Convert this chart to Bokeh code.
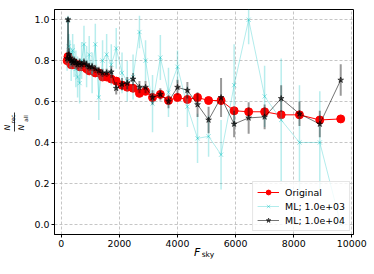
import numpy as np
from bokeh.plotting import figure
from bokeh.models import (Range1d, FixedTicker, LinearAxis, Legend, LegendItem)
from bokeh.embed import file_html
from bokeh.resources import INLINE

# ---------------- data ----------------
f_sky = [200, 230, 260, 300, 340, 390, 440, 500, 560, 630, 700, 780, 870, 960,
         1060, 1170, 1290, 1420, 1560, 1720, 1890, 2090, 2270, 2470, 2690, 2900,
         3140, 3410, 3690, 4000, 4340, 4690, 5070, 5500, 5950, 6450, 7000, 7570,
         8200, 8900, 9620]

original = [0.80, 0.82, 0.81, 0.79, 0.78, 0.78, 0.79, 0.78, 0.78, 0.77, 0.77,
            0.77, 0.76, 0.75, 0.75, 0.74, 0.74, 0.72, 0.72, 0.71, 0.70, 0.68,
            0.67, 0.665, 0.64, 0.65, 0.62, 0.635, 0.605, 0.62, 0.61, 0.62,
            0.605, 0.605, 0.555, 0.55, 0.55, 0.535, 0.535, 0.51, 0.515]

ml_1e3 = [0.80, 1.0, 0.87, 0.83, 0.78, 0.85, 0.80, 0.76, 0.72, 0.69, 0.80,
          0.88, 0.77, 0.83, 0.74, 0.88, 0.62, 0.80, 0.83, 0.78, 0.86, 0.74,
          0.70, 0.72, 0.94, 0.80, 0.59, 0.815, 0.645, 0.77, 0.575, 0.42, 0.43,
          0.34, 0.68, 1.0, 0.625, 0.51, 0.40, 0.40, 0.0]
ml_1e3_err = [0.05, 0.02, 0.06, 0.07, 0.08, 0.08, 0.08, 0.09, 0.1, 0.1, 0.09,
              0.09, 0.1, 0.09, 0.1, 0.1, 0.11, 0.1, 0.1, 0.1, 0.1, 0.1, 0.1,
              0.11, 0.08, 0.1, 0.14, 0.11, 0.12, 0.08, 0.1, 0.12, 0.1, 0.17,
              0.2, 0.12, 0.15, 0.3, 0.28, 0.25, 0.0]

ml_1e4 = [0.81, 1.0, 0.83, 0.81, 0.80, 0.79, 0.80, 0.79, 0.78, 0.79, 0.78,
          0.79, 0.78, 0.77, 0.77, 0.76, 0.75, 0.74, 0.74, 0.745, 0.665, 0.685,
          0.69, 0.71, 0.67, 0.67, 0.62, 0.635, 0.60, 0.67, 0.655, 0.585, 0.51,
          0.62, 0.49, 0.52, 0.525, 0.615, 0.54, 0.49, 0.705]
ml_1e4_err = [0.02, 0.01, 0.03, 0.02, 0.02, 0.02, 0.02, 0.02, 0.02, 0.02, 0.02,
              0.02, 0.02, 0.02, 0.02, 0.02, 0.02, 0.02, 0.02, 0.03, 0.03, 0.03,
              0.03, 0.03, 0.03, 0.03, 0.035, 0.03, 0.033, 0.037, 0.04, 0.06,
              0.065, 0.095, 0.065, 0.077, 0.06, 0.065, 0.06, 0.065, 0.077]

x_ticks = [0, 2000, 4000, 6000, 8000, 10000]
x_tick_labels = ["0", "2000", "4000", "6000", "8000", "10000"]
y_ticks = [0.0, 0.2, 0.4, 0.6, 0.8, 1.0]
y_tick_labels = ["0.0", "0.2", "0.4", "0.6", "0.8", "1.0"]

legend_labels = ["Original", "ML; 1.0e+03", "ML; 1.0e+04"]

# axis-title pieces: (text, position along the axis in data units)
x_title = [("F", 4678), ("sky", 5047)]
y_title_num = [("N", 0.473), ("rec", 0.515)]
y_title_den = [("N", 0.473), ("all", 0.517)]
y_title_bar = (0.4535, 0.5464)

# ---------------- figure ----------------
FONT = "DejaVu Sans"
W, H = 374, 274
p = figure(width=W, height=H, output_backend="svg", toolbar_location=None,
           x_range=Range1d(-235, 10060), y_range=Range1d(-0.05, 1.05),
           min_border_left=54, min_border_right=21, min_border_top=9,
           min_border_bottom=40)
p.background_fill_color = "white"
p.border_fill_color = "white"
p.outline_line_color = "black"
p.outline_line_width = 1

p.xaxis.ticker = FixedTicker(ticks=x_ticks)
p.yaxis.ticker = FixedTicker(ticks=y_ticks)
p.xaxis.major_label_overrides = {t: l for t, l in zip(x_ticks, x_tick_labels)}
p.yaxis.major_label_overrides = {t: l for t, l in zip(y_ticks, y_tick_labels)}
for ax in (p.xaxis, p.yaxis):
    ax.axis_line_color = "black"
    ax.major_tick_line_color = "black"
    ax.major_tick_in = 0
    ax.major_tick_out = 3
    ax.minor_tick_line_color = None
    ax.major_label_text_font = FONT
    ax.major_label_text_font_size = "9.4px"
    ax.major_label_text_color = "black"
    ax.major_label_standoff = 2
    ax.axis_label = None

p.grid.grid_line_color = "#b8b8b8"
p.grid.grid_line_dash = "3 2"
p.grid.grid_line_width = 0.8

x = np.array(f_sky, dtype=float)
y0 = np.array(original)
y1 = np.array(ml_1e3)
e1 = np.array(ml_1e3_err)
y2 = np.array(ml_1e4)
e2 = np.array(ml_1e4_err)

CYAN = "#00bfbf"

# Original
r0l = p.line(x, y0, line_color="red", line_width=1)
r0m = p.scatter(x, y0, marker="circle", size=8, fill_color="red",
                line_color="red")

# ML 1e3
p.segment(x, y1 - e1, x, y1 + e1, line_color=CYAN, line_alpha=0.28,
          line_width=1.5)
r1l = p.line(x, y1, line_color=CYAN, line_alpha=0.3, line_width=1)
r1m = p.scatter(x, y1, marker="x", size=6, line_color=CYAN, line_alpha=0.4,
                line_width=1)

# ML 1e4
p.segment(x, y2 - e2, x, y2 + e2, line_color="black", line_alpha=0.4,
          line_width=2)
r2l = p.line(x, y2, line_color="black", line_alpha=0.55, line_width=1)
r2m = p.scatter(x, y2, marker="star", size=6, fill_color="black",
                fill_alpha=0.55, line_color="black", line_alpha=0.55)

legend = Legend(items=[
    LegendItem(label=legend_labels[0], renderers=[r0l, r0m]),
    LegendItem(label=legend_labels[1], renderers=[r1l, r1m]),
    LegendItem(label=legend_labels[2], renderers=[r2l, r2m]),
], location="bottom_right")
legend.label_text_font = FONT
legend.label_text_font_size = "9.4px"
legend.label_text_color = "black"
legend.label_height = 12
legend.glyph_height = 12
legend.glyph_width = 22
legend.label_standoff = 6
legend.spacing = 2
legend.padding = 4
legend.margin = 3
legend.border_line_color = "#cccccc"
legend.border_line_width = 1
legend.background_fill_color = "white"
legend.background_fill_alpha = 0.8
p.add_layout(legend)


# ---------------- axis titles built from tick-less axes ----------------
def text_axis(place, text, pos, size, style, standoff, orientation="horizontal"):
    ax = LinearAxis(ticker=FixedTicker(ticks=[pos]),
                    major_label_overrides={pos: text},
                    axis_line_color=None, major_tick_line_color=None,
                    minor_tick_line_color=None, major_tick_in=0,
                    major_tick_out=0, major_label_standoff=standoff,
                    major_label_text_font=FONT,
                    major_label_text_font_size=size,
                    major_label_text_font_style=style,
                    major_label_text_color="black",
                    major_label_orientation=orientation)
    p.add_layout(ax, place)


text_axis("below", x_title[0][0], x_title[0][1], "11px", "italic", -4)
text_axis("below", x_title[1][0], x_title[1][1], "7.5px", "normal", -12)

# y title: denominator (closest to frame), bar, numerator
text_axis("left", y_title_den[1][0], y_title_den[1][1], "5.6px", "normal", 2,
          "vertical")
text_axis("left", y_title_den[0][0], y_title_den[0][1], "7.8px", "italic", -6,
          "vertical")
bar = LinearAxis(ticker=FixedTicker(ticks=[]), bounds=y_title_bar,
                 axis_line_color="black", axis_line_width=0.8,
                 major_tick_line_color=None, minor_tick_line_color=None,
                 major_tick_in=0, major_tick_out=0, major_label_standoff=0)
p.add_layout(bar, "left")
text_axis("left", y_title_num[1][0], y_title_num[1][1], "5.6px", "normal", -2,
          "vertical")
text_axis("left", y_title_num[0][0], y_title_num[0][1], "7.8px", "italic", -5,
          "vertical")

open("out.html", "w").write(file_html(p, INLINE))
